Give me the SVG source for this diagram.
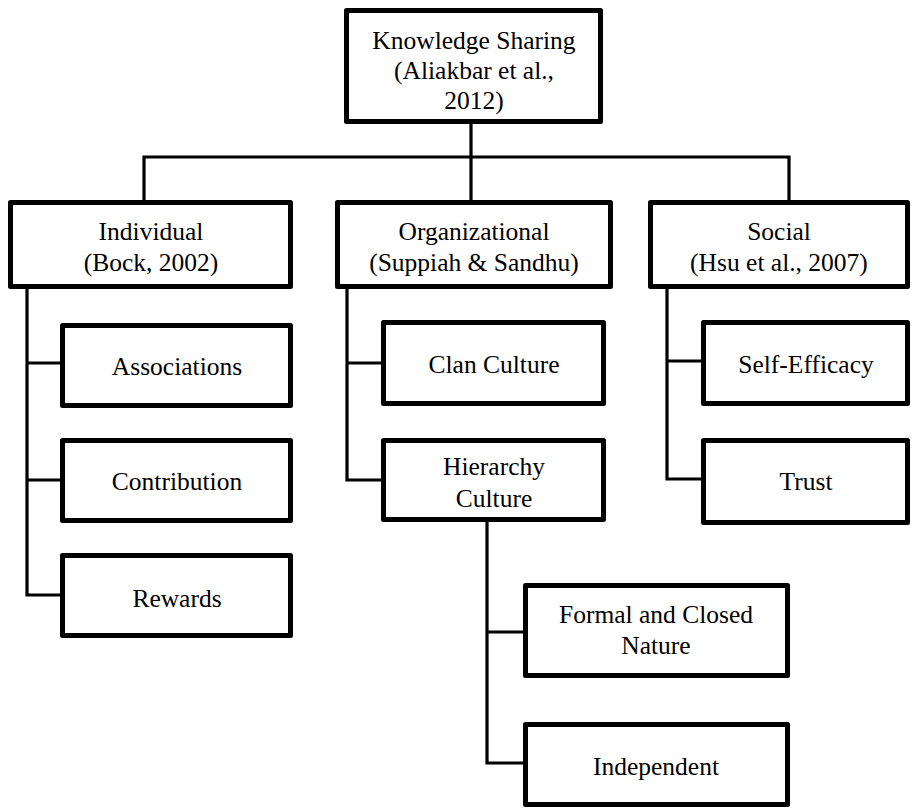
<svg xmlns="http://www.w3.org/2000/svg" width="913" height="808" viewBox="0 0 913 808">
<style>
.box{fill:#fff;stroke:#000;stroke-width:5;stroke-linejoin:round}
.ln{fill:none;stroke:#000;stroke-width:3.2}
text{font-family:"Liberation Serif","Times New Roman",serif;font-size:25.5px;fill:#000;text-anchor:middle}
</style>
<rect width="913" height="808" fill="#fff"/>
<g id="connectors">
<path class="ln" d="M471 124V200M144 200V157H789V200"/>
<path class="ln" d="M27 289V595H62M27 363H62M27 480H62"/>
<path class="ln" d="M347 289V480H381M347 363H381"/>
<path class="ln" d="M667 289V479H701M667 361H701"/>
<path class="ln" d="M487 522V763H523M487 632H523"/>
</g>
<g id="knowledge-sharing">
<rect class="box" x="346.5" y="10.5" width="254" height="111"/>
<text x="474" y="49">Knowledge Sharing</text>
<text x="474" y="79">(Aliakbar et al.,</text>
<text x="474" y="109">2012)</text>
</g>
<g id="individual">
<rect class="box" x="10.5" y="202.5" width="280" height="84"/>
<text x="151" y="240">Individual</text>
<text x="151" y="271">(Bock, 2002)</text>
</g>
<g id="organizational">
<rect class="box" x="337.5" y="202.5" width="273" height="84"/>
<text x="474" y="240">Organizational</text>
<text x="474" y="271">(Suppiah &amp; Sandhu)</text>
</g>
<g id="social">
<rect class="box" x="650.5" y="202.5" width="257" height="84"/>
<text x="779" y="240">Social</text>
<text x="779" y="271">(Hsu et al., 2007)</text>
</g>
<g id="associations">
<rect class="box" x="62.5" y="325.5" width="228" height="80"/>
<text x="177" y="375">Associations</text>
</g>
<g id="contribution">
<rect class="box" x="62.5" y="440.5" width="228" height="80"/>
<text x="177" y="490">Contribution</text>
</g>
<g id="rewards">
<rect class="box" x="62.5" y="555.5" width="228" height="80"/>
<text x="177" y="607">Rewards</text>
</g>
<g id="clan-culture">
<rect class="box" x="383.5" y="322.5" width="220" height="81"/>
<text x="494" y="373">Clan Culture</text>
</g>
<g id="hierarchy-culture">
<rect class="box" x="383.5" y="440.5" width="220" height="79"/>
<text x="494" y="475">Hierarchy</text>
<text x="494" y="507">Culture</text>
</g>
<g id="self-efficacy">
<rect class="box" x="703.5" y="322.5" width="204" height="81"/>
<text x="806" y="373">Self-Efficacy</text>
</g>
<g id="trust">
<rect class="box" x="703.5" y="440.5" width="204" height="82"/>
<text x="806" y="490">Trust</text>
</g>
<g id="formal-closed">
<rect class="box" x="525.5" y="585.5" width="262" height="90"/>
<text x="656" y="623">Formal and Closed</text>
<text x="656" y="654">Nature</text>
</g>
<g id="independent">
<rect class="box" x="525.5" y="724.5" width="262" height="80"/>
<text x="656" y="775">Independent</text>
</g>
</svg>
